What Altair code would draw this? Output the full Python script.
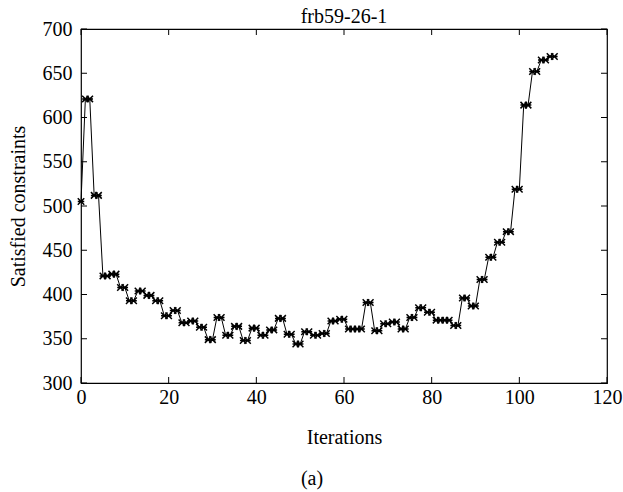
import altair as alt
import pandas as pd

iterations = list(range(109))
satisfied = [
    505,
    621, 621, 512, 512, 421, 421, 423, 423, 408, 408,
    393, 393, 404, 404, 399, 399, 393, 393, 376, 376,
    382, 382, 368, 368, 370, 370, 363, 363, 349, 349,
    374, 374, 354, 354, 364, 364, 348, 348, 362, 362,
    354, 354, 360, 360, 373, 373, 355, 355, 344, 344,
    358, 358, 354, 354, 356, 356, 370, 370, 372, 372,
    361, 361, 361, 361, 391, 391, 359, 359, 367, 367,
    369, 369, 361, 361, 374, 374, 385, 385, 380, 380,
    371, 371, 371, 371, 365, 365, 396, 396, 387, 387,
    417, 417, 442, 442, 459, 459, 471, 471, 519, 519,
    614, 614, 652, 652, 665, 665, 669, 669,
]
x_ticks = [0, 20, 40, 60, 80, 100, 120]
y_ticks = [300, 350, 400, 450, 500, 550, 600, 650, 700]
title_text = "frb59-26-1"
caption_text = "(a)"

FONT = "Liberation Serif"
W, H = 526, 354
TL = 6

df = pd.DataFrame({"iteration": iterations, "satisfied": satisfied})
xt = pd.DataFrame({"v": x_ticks})
yt = pd.DataFrame({"v": y_ticks})

xscale = alt.Scale(domain=[0, 120], nice=False)
yscale = alt.Scale(domain=[300, 700], nice=False)

star = "M-1,-1L1,1M-1,1L1,-1M-1,0L1,0"

base = alt.Chart(df)
line = base.mark_line(color="black", strokeWidth=1).encode(
    x=alt.X("iteration:Q", scale=xscale,
            axis=alt.Axis(values=x_ticks, ticks=False, domain=False, grid=False,
                          labelFlush=False,
                          labelFont=FONT, labelFontSize=20, labelColor="black",
                          labelPadding=4, title="Iterations", titleFont=FONT,
                          titleFontSize=20, titleFontWeight="normal", titleColor="black",
                          titleBaseline="middle", titleY=54)),
    y=alt.Y("satisfied:Q", scale=yscale,
            axis=alt.Axis(values=y_ticks, ticks=False, domain=False, grid=False,
                          labelFlush=False,
                          labelFont=FONT, labelFontSize=20, labelColor="black",
                          labelPadding=9, title="Satisfied constraints", titleFont=FONT,
                          titleFontSize=20, titleFontWeight="normal", titleColor="black",
                          titleBaseline="middle", titleAlign="center",
                          titleX=-63, titleY=177)),
)
points = base.mark_point(shape=star, size=42, filled=False, color="black",
                         strokeWidth=1.5, opacity=1).encode(
    x=alt.X("iteration:Q", scale=xscale),
    y=alt.Y("satisfied:Q", scale=yscale),
)

xb = alt.Chart(xt).mark_rule(color="black", strokeWidth=1).encode(
    x=alt.X("v:Q", scale=xscale), y=alt.value(H), y2=alt.value(H - TL))
xtop = alt.Chart(xt).mark_rule(color="black", strokeWidth=1).encode(
    x=alt.X("v:Q", scale=xscale), y=alt.value(0), y2=alt.value(TL))
yl = alt.Chart(yt).mark_rule(color="black", strokeWidth=1).encode(
    y=alt.Y("v:Q", scale=yscale), x=alt.value(0), x2=alt.value(TL))
yr = alt.Chart(yt).mark_rule(color="black", strokeWidth=1).encode(
    y=alt.Y("v:Q", scale=yscale), x=alt.value(W), x2=alt.value(W - TL))

caption = alt.Chart(pd.DataFrame({"t": [caption_text]})).mark_text(
    font=FONT, fontSize=20, color="black", baseline="middle", align="center"
).encode(text="t:N", x=alt.value(231), y=alt.value(450))

title = alt.Chart(pd.DataFrame({"t": [title_text]})).mark_text(
    font=FONT, fontSize=20, color="black", baseline="alphabetic", align="center"
).encode(text="t:N", x=alt.value(W / 2), y=alt.value(-6))

chart = alt.layer(line, points, xb, xtop, yl, yr, caption, title).properties(
    width=W, height=H,
    autosize=alt.AutoSizeParams(type="none"),
    padding={"left": 81, "top": 29, "right": 16, "bottom": 109},
    background="white",
).configure_view(stroke="black", strokeWidth=1.2)

chart.save("out.html", embed_options={"renderer": "svg", "actions": False})
